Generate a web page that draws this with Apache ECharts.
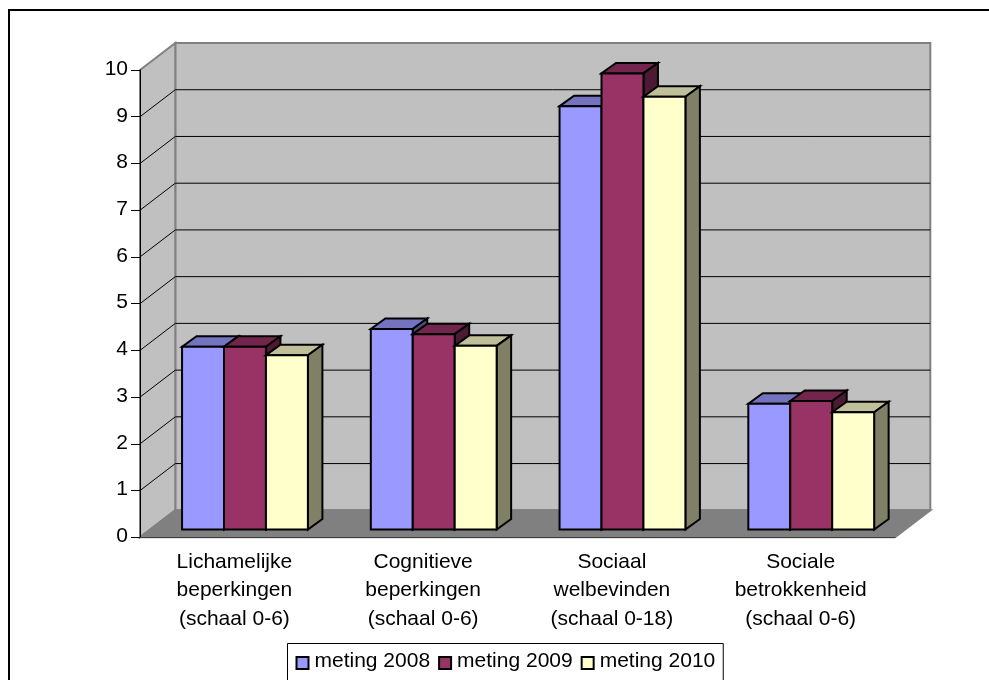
<!DOCTYPE html>
<html>
<head>
<meta charset="utf-8">
<style>html,body{margin:0;padding:0;background:#fff;overflow:hidden}#chart{width:989px;height:680px}</style>
<script src="https://cdn.jsdelivr.net/npm/echarts@6/dist/echarts.min.js"></script>
</head>
<body>
<div id="chart"></div>
<script>
// Scale scores per domain, three measurement years
const categories = [
  'Lichamelijke\nbeperkingen\n(schaal 0-6)',
  'Cognitieve\nbeperkingen\n(schaal 0-6)',
  'Sociaal\nwelbevinden\n(schaal 0-18)',
  'Sociale\nbetrokkenheid\n(schaal 0-6)'
];
const meting2008 = [3.91, 4.29, 9.06, 2.69];
const meting2009 = [3.91, 4.18, 9.76, 2.75];
const meting2010 = [3.73, 3.93, 9.26, 2.51];
const gridValues = [1, 2, 3, 4, 5, 6, 7, 8, 9];

// Oblique projection: how far the back wall and each bar are pushed back, in pixels
const WALL = { dx: 35.3, dy: -27 };
const BASE = { dx: 10.6, dy: -7.8 };
const DEPTH = { dx: 14.5, dy: -10.5 };
const FONT = 'Liberation Sans, Arial, sans-serif';
const GREY_EDGE = '#808080';

function renderWalls(params, api) {
  const c = params.coordSys;
  const L = c.x, R = c.x + c.width, T = c.y, B = c.y + c.height;
  const poly = (points, fill) => ({
    type: 'polygon', shape: { points },
    style: { fill, stroke: GREY_EDGE, lineWidth: 2 }
  });
  return {
    type: 'group',
    children: [
      poly([[L + WALL.dx, T + WALL.dy], [R + WALL.dx, T + WALL.dy], [R + WALL.dx, B + WALL.dy], [L + WALL.dx, B + WALL.dy]], '#c0c0c0'),
      poly([[L, T], [L + WALL.dx, T + WALL.dy], [L + WALL.dx, B + WALL.dy], [L, B]], '#c0c0c0'),
      poly([[L, B], [L + WALL.dx, B + WALL.dy], [R + WALL.dx, B + WALL.dy], [R, B]], '#808080')
    ]
  };
}

function renderGridLine(params, api) {
  const c = params.coordSys;
  const y = api.coord([0, api.value(1)])[1];
  return {
    type: 'polyline',
    shape: { points: [[c.x, y], [c.x + WALL.dx, y + WALL.dy], [c.x + c.width + WALL.dx, y + WALL.dy]] },
    style: { fill: 'none', stroke: '#000', lineWidth: 1 }
  };
}

// One extruded bar: top face, side face, then the front on top of them
function barRenderer(slot, front, topFace, sideFace) {
  return function (params, api) {
    const cat = api.value(0);
    const band = api.size([1, 0])[0];
    const w = band / 4.5;
    const centre = api.coord([cat, 0])[0];
    const x0 = centre + (slot - 1.5) * w + BASE.dx;
    const x1 = x0 + w;
    const yTop = api.coord([cat, api.value(1)])[1] + BASE.dy;
    const yBase = api.coord([cat, 0])[1] + BASE.dy;
    const face = (points, fill) => ({
      type: 'polygon', shape: { points },
      style: { fill, stroke: '#000', lineWidth: 2, lineJoin: 'miter' }
    });
    return {
      type: 'group',
      children: [
        face([[x0, yTop], [x0 + DEPTH.dx, yTop + DEPTH.dy], [x1 + DEPTH.dx, yTop + DEPTH.dy], [x1, yTop]], topFace),
        face([[x1, yTop], [x1 + DEPTH.dx, yTop + DEPTH.dy], [x1 + DEPTH.dx, yBase + DEPTH.dy], [x1, yBase]], sideFace),
        face([[x0, yTop], [x1, yTop], [x1, yBase], [x0, yBase]], front)
      ]
    };
  };
}

function barSeries(name, values, slot, front, topFace, sideFace) {
  return {
    name, type: 'custom', z: 3, clip: false,
    renderItem: barRenderer(slot, front, topFace, sideFace),
    encode: { x: 0, y: 1 },
    data: values.map((v, i) => [i, v]),
    itemStyle: { color: front, borderColor: '#000', borderWidth: 2 }
  };
}

const chart = echarts.init(document.getElementById('chart'), null, { renderer: 'canvas' });
chart.setOption({
  animation: false,
  backgroundColor: '#fff',
  textStyle: { fontFamily: FONT },
  grid: { left: 140, top: 70, width: 755, height: 467.3, containLabel: false },
  xAxis: {
    type: 'category', data: categories, z: 5,
    axisLine: { lineStyle: { color: '#404040', width: 1 } },
    axisTick: { alignWithLabel: false, length: 9, lineStyle: { color: '#404040' } },
    axisLabel: { color: '#000', fontSize: 21, lineHeight: 28.5, margin: 10.5, fontFamily: FONT, interval: 0 },
    splitLine: { show: false }
  },
  yAxis: {
    type: 'value', min: 0, max: 10, interval: 1, z: 5,
    axisLine: { show: true, lineStyle: { color: '#000', width: 1 } },
    axisTick: { show: true, length: 9, lineStyle: { color: '#000' } },
    axisLabel: {
      color: '#000', margin: 12,
      formatter: '{v|{value}}',
      rich: { v: { color: '#000', fontSize: 21, fontFamily: FONT, padding: [0, 0, 2, 0] } }
    },
    splitLine: { show: false }
  },
  legend: {
    data: ['meting 2008', 'meting 2009', 'meting 2010'],
    left: 287.5, top: 643.5,
    padding: [7, 8, 32, 8],
    itemWidth: 12, itemHeight: 12, itemGap: 8,
    icon: 'rect',
    borderColor: '#000', borderWidth: 1,
    selectedMode: false,
    formatter: '{t|{name}}',
    textStyle: {
      color: '#000', fontSize: 21, fontFamily: FONT,
      rich: { t: { color: '#000', fontSize: 21, fontFamily: FONT, padding: [0, 0, 4, 1] } }
    }
  },
  graphic: [{
    type: 'polyline', silent: true,
    shape: { points: [[9, 680], [9, 10], [989, 10]] },
    style: { fill: 'none', stroke: '#000', lineWidth: 2 }
  }],
  series: [
    { name: 'wanden', type: 'custom', z: 1, clip: false, renderItem: renderWalls, encode: { x: 0, y: 1 }, data: [[0, 0]] },
    { name: 'rasterlijnen', type: 'custom', z: 2, clip: false, renderItem: renderGridLine, encode: { x: 0, y: 1 }, data: gridValues.map(v => [0, v]) },
    barSeries('meting 2008', meting2008, 0, '#9999ff', '#7373bf', '#4d4d80'),
    barSeries('meting 2009', meting2009, 1, '#993366', '#73264d', '#4d1a33'),
    barSeries('meting 2010', meting2010, 2, '#ffffcc', '#bfbf99', '#808066')
  ]
});
</script>
</body>
</html>
